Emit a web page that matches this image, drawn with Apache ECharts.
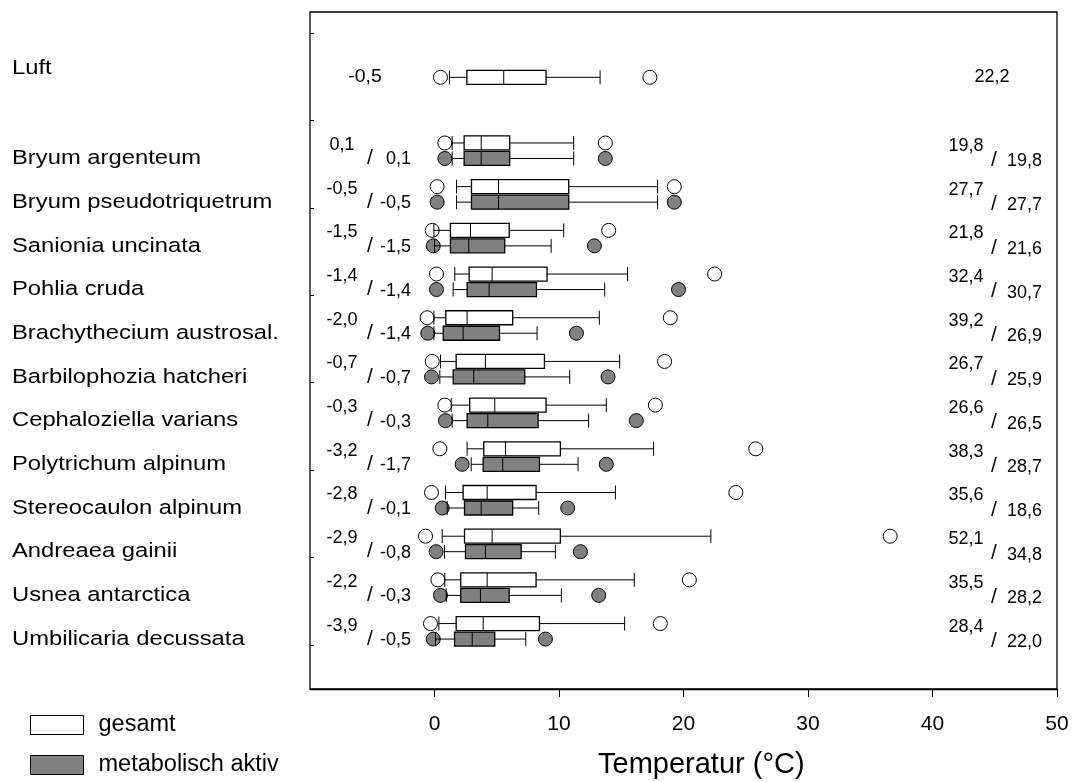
<!DOCTYPE html>
<html>
<head>
<meta charset="utf-8">
<script src="https://cdn.jsdelivr.net/npm/echarts@6/dist/echarts.min.js"></script>
<style>html,body{margin:0;padding:0;background:#fff;}#c{width:1074px;height:782px;}</style>
</head>
<body>
<div id="c"></div>
<script>
// ---------------- data ----------------
const categories = ['Luft', 'Bryum argenteum', 'Bryum pseudotriquetrum', 'Sanionia uncinata', 'Pohlia cruda',
  'Brachythecium austrosal.', 'Barbilophozia hatcheri', 'Cephaloziella varians', 'Polytrichum alpinum',
  'Stereocaulon alpinum', 'Andreaea gainii', 'Usnea antarctica', 'Umbilicaria decussata'];

// [lowOutlier(5%), lowWhisker(10%), Q1, median, Q3, highWhisker(90%), highOutlier(95%)]
const gesamt = [
  [0.48, 1.2, 2.6, 5.56, 8.96, 13.3, 17.3],
  [0.83, 1.42, 2.38, 3.75, 6.04, 11.18, 13.72],
  [0.21, 1.77, 2.97, 5.14, 10.78, 17.92, 19.26],
  [-0.18, -0.05, 1.28, 2.89, 6.0, 10.38, 13.99],
  [0.16, 1.63, 2.78, 4.63, 9.04, 15.51, 22.5],
  [-0.59, -0.05, 0.91, 2.62, 6.28, 13.24, 18.94],
  [-0.18, 0.48, 1.74, 4.09, 8.83, 14.87, 18.48],
  [0.83, 1.34, 2.83, 4.84, 8.96, 13.8, 17.74],
  [0.43, 2.62, 3.96, 5.7, 10.11, 17.6, 25.8],
  [-0.24, 0.88, 2.3, 4.23, 8.16, 14.53, 24.2],
  [-0.72, 0.62, 2.41, 4.63, 10.11, 22.2, 36.6],
  [0.27, 0.83, 2.11, 4.23, 8.16, 16.05, 20.47],
  [-0.32, 0.35, 1.74, 3.91, 8.43, 15.27, 18.14]
];
const aktiv = [
  null,
  [0.83, 1.42, 2.38, 3.75, 6.04, 11.18, 13.72],
  [0.21, 1.77, 2.97, 5.14, 10.78, 17.92, 19.26],
  [-0.1, 0.0, 1.28, 2.75, 5.64, 9.37, 12.84],
  [0.16, 1.5, 2.62, 4.39, 8.19, 13.67, 19.6],
  [-0.54, -0.05, 0.7, 2.3, 5.22, 8.24, 11.4],
  [-0.24, 0.43, 1.5, 3.15, 7.25, 10.86, 13.94],
  [0.88, 1.42, 2.62, 4.28, 8.32, 12.38, 16.21],
  [2.22, 2.95, 3.91, 5.48, 8.43, 11.53, 13.8],
  [0.62, 1.02, 2.41, 3.75, 6.28, 8.37, 10.7],
  [0.13, 0.8, 2.49, 4.09, 6.96, 9.71, 11.72],
  [0.48, 0.94, 2.11, 3.69, 6.0, 10.19, 13.19],
  [-0.1, 0.08, 1.61, 3.03, 4.84, 7.33, 8.91]
];
const minGesamt = [-0.5, 0.1, -0.5, -1.5, -1.4, -2.0, -0.7, -0.3, -3.2, -2.8, -2.9, -2.2, -3.9];
const minAktiv  = [null, 0.1, -0.5, -1.5, -1.4, -1.4, -0.7, -0.3, -1.7, -0.1, -0.8, -0.3, -0.5];
const maxGesamt = [22.2, 19.8, 27.7, 21.8, 32.4, 39.2, 26.7, 26.6, 38.3, 35.6, 52.1, 35.5, 28.4];
const maxAktiv  = [null, 19.8, 27.7, 21.6, 30.7, 26.9, 25.9, 26.5, 28.7, 18.6, 34.8, 28.2, 22.0];
const xTicks = [0, 10, 20, 30, 40, 50];

// ---------------- layout ----------------
const LUFT_POS = -1.68;
function rowPos(i) { return i === 0 ? LUFT_POS : i - 1; }
const FONT = '"Liberation Sans", Arial, sans-serif';
function fmt(v) { return v.toFixed(1).replace('.', ','); }
const BOX_HALF = 7, PAIR_OFF = 7.75, R = 7;

function boxShapes(api, s, cy, fill) {
  const X = v => api.coord([v, 0])[0];
  const ch = [];
  const line = (x1, y1, x2, y2) => ({ type: 'line', shape: { x1, y1, x2, y2 }, style: { stroke: '#000', lineWidth: 1 } });
  [s[0], s[6]].forEach(v => ch.push({ type: 'circle', shape: { cx: X(v), cy, r: R },
    style: { fill: fill, stroke: '#000', lineWidth: 1 } }));
  ch.push(line(X(s[1]), cy, X(s[2]), cy));
  ch.push(line(X(s[4]), cy, X(s[5]), cy));
  ch.push(line(X(s[1]), cy - BOX_HALF, X(s[1]), cy + BOX_HALF));
  ch.push(line(X(s[5]), cy - BOX_HALF, X(s[5]), cy + BOX_HALF));
  ch.push({ type: 'rect', shape: { x: X(s[2]), y: cy - BOX_HALF, width: X(s[4]) - X(s[2]), height: 2 * BOX_HALF },
    style: { fill: fill, stroke: '#000', lineWidth: 1.3 } });
  ch.push(line(X(s[3]), cy - BOX_HALF, X(s[3]), cy + BOX_HALF));
  return ch;
}
function txt(text, x, y, align, size, sx) {
  return { type: 'text', x, y, scaleX: sx || 1, scaleY: 1,
    style: { text, fill: '#000', font: (size || 18) + 'px ' + FONT, align: align, verticalAlign: 'middle' } };
}

function renderGesamt(params, api) {
  const i = params.dataIndex;
  const s = gesamt[i];
  const mid = api.coord([0, rowPos(i)])[1];
  const left = api.coord([-10, 0])[0];
  const right = api.coord([50, 0])[0];
  const ch = [];
  if (i === 0) {
    ch.push(...boxShapes(api, s, mid, '#ffffff'));
    ch.push(txt(categories[i], 12, mid - 9, 'left', 20.5, 1.16));
    ch.push(txt(fmt(minGesamt[i]), left + 55, mid, 'center', 18, 1.08));
    ch.push(txt(fmt(maxGesamt[i]), right - 65, mid, 'center'));
  } else {
    const cy = mid - PAIR_OFF;
    ch.push(...boxShapes(api, s, cy, '#ffffff'));
    ch.push(txt(categories[i], 12, mid + PAIR_OFF, 'left', 20.5, 1.16));
    ch.push(txt(fmt(minGesamt[i]), left + 32, cy + 2, 'center'));
    ch.push(txt('/', left + 60, mid + PAIR_OFF, 'center', 21));
    ch.push(txt(fmt(maxGesamt[i]), right - 91, cy + 3, 'center'));
    ch.push(txt('/', right - 63, mid + PAIR_OFF + 2, 'center', 21));
  }
  return { type: 'group', children: ch };
}
function renderAktiv(params, api) {
  const i = params.dataIndex;
  const s = aktiv[i];
  if (!s) return null;
  const mid = api.coord([0, rowPos(i)])[1];
  const left = api.coord([-10, 0])[0];
  const right = api.coord([50, 0])[0];
  const cy = mid + PAIR_OFF;
  const ch = boxShapes(api, s, cy, '#808080');
  ch.push(txt(fmt(minAktiv[i]), left + 101, cy + 1, 'right'));
  ch.push(txt(fmt(maxAktiv[i]), right - 15, cy + 3, 'right'));
  return { type: 'group', children: ch };
}

const chart = echarts.init(document.getElementById('c'));
chart.setOption({
  animation: false,
  backgroundColor: '#fff',
  grid: { left: 310, right: 17, top: 12, bottom: 93, show: true, borderColor: '#000', borderWidth: 1.3, backgroundColor: 'transparent' },
  title: { text: 'Temperatur (°C)', left: 598, top: 750, padding: 0,
    textStyle: { fontFamily: FONT, fontSize: 29, fontWeight: 'normal', color: '#000' } },
  legend: {
    orient: 'vertical', left: 30, top: 713, padding: 0, itemWidth: 53, itemHeight: 19, itemGap: 16,
    textStyle: { fontFamily: FONT, fontSize: 23.5, color: '#000', padding: [0, 0, 0, 10] },
    data: [
      { name: 'gesamt', icon: 'rect', itemStyle: { color: '#ffffff', borderColor: '#000', borderWidth: 1 } },
      { name: 'metabolisch aktiv', icon: 'rect', itemStyle: { color: '#808080', borderColor: '#000', borderWidth: 1 } }
    ]
  },
  xAxis: {
    type: 'value', min: -10, max: 50, interval: 10,
    splitLine: { show: false },
    axisLine: { show: true, onZero: false, lineStyle: { color: '#000', width: 1.3 } },
    axisTick: { show: true, length: 8, customValues: xTicks, lineStyle: { color: '#000' } },
    axisLabel: { customValues: xTicks, margin: 25, color: '#000', fontFamily: FONT, fontSize: 21 }
  },
  yAxis: {
    type: 'value', inverse: true, min: -3.175, max: 12.32,
    splitLine: { show: false },
    axisLine: { show: false, onZero: false },
    axisTick: { show: true, inside: true, length: 4, customValues: [-2.69, -0.69, 1.31, 3.31, 5.31, 7.31, 9.31, 11.31], lineStyle: { color: '#000' } },
    axisLabel: { show: false }
  },
  series: [
    { name: 'gesamt', type: 'custom', renderItem: renderGesamt, clip: false,
      itemStyle: { color: '#ffffff', borderColor: '#000' },
      encode: { x: 0, y: 1 }, data: gesamt.map((s, i) => [s[3], rowPos(i)]) },
    { name: 'metabolisch aktiv', type: 'custom', renderItem: renderAktiv, clip: false,
      itemStyle: { color: '#808080', borderColor: '#000' },
      encode: { x: 0, y: 1 }, data: aktiv.map((s, i) => [s ? s[3] : 0, rowPos(i)]) }
  ]
});
</script>
</body>
</html>
